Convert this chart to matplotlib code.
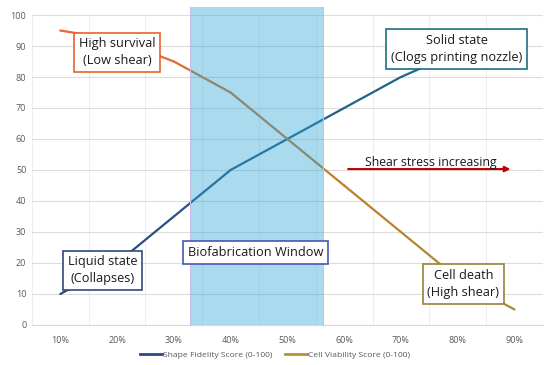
import matplotlib
matplotlib.use("Agg")
import matplotlib.pyplot as plt
from matplotlib.lines import Line2D
from matplotlib.colors import to_rgb
import numpy as np

plt.rcParams['font.family'] = ['Open Sans', 'DejaVu Sans']

# ---- data ----
concentration = [0.10, 0.20, 0.30, 0.40, 0.50, 0.60, 0.70, 0.80, 0.90]
shape_fidelity = [10, 20, 35, 50, 60, 70, 80, 88, 95]
cell_viability = [95, 92, 85, 75, 60, 45, 30, 15, 5]
x_ticks = [0.1, 0.2, 0.3, 0.4, 0.5, 0.6, 0.7, 0.8, 0.9]
x_tick_labels = ["10%", "20%", "30%", "40%", "50%", "60%", "70%", "80%", "90%"]
y_ticks = [0, 10, 20, 30, 40, 50, 60, 70, 80, 90, 100]
window_range = (0.329, 0.563)
series_names = ["Shape Fidelity Score (0-100)", "Cell Viability Score (0-100)"]

fig = plt.figure(figsize=(5.5, 3.65), dpi=100)
ax = fig.add_axes([0.058, 0.1096, 0.929, 0.8493])
ax.set_xlim(0.05, 0.95)
ax.set_ylim(0, 100)


def mix(c0, c1, t):
    a, b = np.array(to_rgb(c0)), np.array(to_rgb(c1))
    return tuple(a + (b - a) * t)


# gradient-coloured series drawn segment by segment
n = len(concentration) - 1
for i in range(n):
    t = i / (n - 1)
    ax.plot(concentration[i:i + 2], shape_fidelity[i:i + 2],
            color=mix('#2b4a80', '#1c6f8c', t), lw=1.6,
            solid_capstyle='round', zorder=3)
    ax.plot(concentration[i:i + 2], cell_viability[i:i + 2],
            color=mix('#ee6630', '#a88c30', t), lw=1.6,
            solid_capstyle='round', zorder=3)

# biofabrication window band
ax.fill_between(window_range, 0, 102.5, color='#2aa4d6', alpha=0.4,
                edgecolor='none', zorder=4, clip_on=False)
ax.plot([window_range[0]] * 2, [0, 102.5], color='#c9bde6', lw=0.8,
        zorder=4, clip_on=False)
ax.plot([window_range[1]] * 2, [0, 102.5], color='#c9bde6', lw=0.8,
        zorder=4, clip_on=False)

# grid
ax.set_yticks(y_ticks)
ax.set_xticks(x_ticks)
ax.set_xticklabels(x_tick_labels)
ax.set_xticks(np.arange(0.05, 0.951, 0.05), minor=True)
ax.grid(axis='y', which='major', color='#dcdcdc', lw=0.8, zorder=0)
ax.grid(axis='x', which='minor', color='#eeeeee', lw=0.8, zorder=0)
ax.tick_params(which='both', length=0, labelsize=6.5, labelcolor='#595959')
ax.tick_params(axis='x', pad=8)
ax.tick_params(axis='y', pad=4)
for s in ['top', 'right', 'left']:
    ax.spines[s].set_visible(False)
ax.spines['bottom'].set_color('#d9d9d9')
ax.set_axisbelow(True)


def label(x, y, text, ec, fs=9.2):
    ax.text(x, y, text, ha='center', va='center', fontsize=fs, color='#1a1a1a',
            linespacing=1.35, zorder=6,
            bbox=dict(boxstyle='square,pad=0.38', fc='white', ec=ec, lw=1.2))


label(0.200, 88.0, "High survival\n(Low shear)", '#e8622c')
label(0.798, 89.0, "Solid state\n(Clogs printing nozzle)", '#1f6e80')
label(0.174, 17.7, "Liquid state\n(Collapses)", '#2f4a7a')
label(0.444, 23.4, "Biofabrication Window", '#4656b4')
label(0.810, 13.2, "Cell death\n(High shear)", '#9a8236')

# shear stress arrow
ax.annotate("", xy=(0.893, 50.3), xytext=(0.607, 50.3),
            arrowprops=dict(arrowstyle='-|>', color='#c00000', lw=1.5,
                            mutation_scale=8, shrinkA=0, shrinkB=0), zorder=5)
ax.text(0.752, 50.4, "Shear stress increasing", ha='center', va='bottom',
        fontsize=8.8, color='#1a1a1a', zorder=6)

handles = [Line2D([], [], color='#2b4a80', lw=2),
           Line2D([], [], color='#b39434', lw=2)]
fig.legend(handles, series_names, loc='lower center', bbox_to_anchor=(0.5, -0.005),
           ncol=2, frameon=False, fontsize=6.1, labelcolor='#595959',
           handlelength=2.6, handletextpad=0.1, columnspacing=1.6)

fig.savefig("out.png", dpi=100)
